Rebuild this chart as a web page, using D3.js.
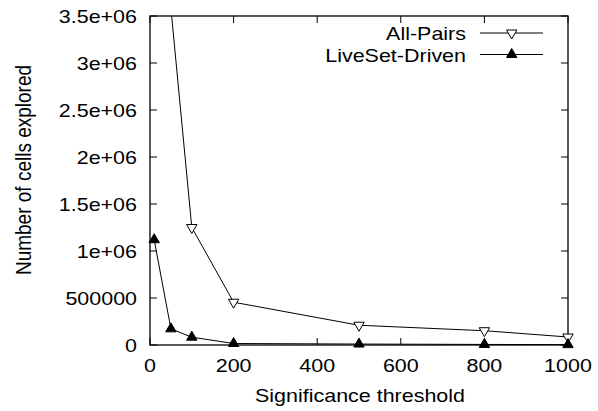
<!DOCTYPE html>
<html>
<head>
<meta charset="utf-8">
<script src="https://cdn.jsdelivr.net/npm/d3@7"></script>
<style>
  body { margin: 0; background: #fff; }
  text { font-family: "Liberation Sans", Arial, sans-serif; fill: #000; }
</style>
</head>
<body>
<div id="chart"></div>
<script>
// data
const allPairsX = [10, 100, 200, 500, 800, 1000];
const allPairsY = [5450000, 1250000, 455000, 210000, 152000, 85000];
const liveSetX = [10, 50, 100, 200, 500, 800, 1000];
const liveSetY = [1120000, 172000, 83000, 16000, 10000, 6000, 4000];
const xTicks = [0, 200, 400, 600, 800, 1000];
const yTicks = [0, 500000, 1000000, 1500000, 2000000, 2500000, 3000000, 3500000];
const yTickLabels = ["0", "500000", "1e+06", "1.5e+06", "2e+06", "2.5e+06", "3e+06", "3.5e+06"];
const seriesNames = ["All-Pairs", "LiveSet-Driven"];

const W = 598, H = 411;
const pLeft = 150, pRight = 568, pTop = 16, pBottom = 345;
const fs = 19, sx = 1.13; // text looks stretched horizontally

const svg = d3.select("#chart").append("svg")
    .attr("width", W).attr("height", H);

const x = d3.scaleLinear().domain([0, 1000]).range([pLeft, pRight]);
const y = d3.scaleLinear().domain([0, 3500000]).range([pBottom, pTop]);

function label(px, py, str, anchor) {
    return svg.append("text")
        .attr("transform", `translate(${px},${py}) scale(${sx},1)`)
        .attr("text-anchor", anchor)
        .style("font-size", fs + "px")
        .text(str);
}

// clip for data lines
svg.append("clipPath").attr("id", "plot")
    .append("rect")
    .attr("x", pLeft).attr("y", pTop)
    .attr("width", pRight - pLeft).attr("height", pBottom - pTop);

// ticks (inward, mirrored)
const tl = 7;
const tg = svg.append("g").attr("stroke", "#000").attr("stroke-width", 1);
xTicks.forEach(t => {
    tg.append("line").attr("x1", x(t)).attr("x2", x(t)).attr("y1", pBottom).attr("y2", pBottom - tl);
    tg.append("line").attr("x1", x(t)).attr("x2", x(t)).attr("y1", pTop).attr("y2", pTop + tl);
    label(x(t), pBottom + 27, t, "middle");
});
yTicks.forEach((t, i) => {
    tg.append("line").attr("x1", pLeft).attr("x2", pLeft + tl).attr("y1", y(t)).attr("y2", y(t));
    tg.append("line").attr("x1", pRight).attr("x2", pRight - tl).attr("y1", y(t)).attr("y2", y(t));
    label(137, y(t) + 7, yTickLabels[i], "end");
});

// border
svg.append("rect")
    .attr("x", pLeft).attr("y", pTop)
    .attr("width", pRight - pLeft).attr("height", pBottom - pTop)
    .attr("fill", "none").attr("stroke", "#000").attr("stroke-width", 1.3);

// axis titles
label(360, 402, "Significance threshold", "middle");
svg.append("text")
    .attr("transform", `translate(31,170) scale(${sx},1) rotate(-90)`)
    .attr("text-anchor", "middle")
    .style("font-size", fs + "px")
    .text("Number of cells explored");

const line = d3.line().x(d => x(d[0])).y(d => y(d[1]));
const allPairs = allPairsX.map((v, i) => [v, allPairsY[i]]);
const liveSet = liveSetX.map((v, i) => [v, liveSetY[i]]);

const down = "M0,6L-5.2,-3L5.2,-3Z";
const up = "M0,-6L-5.2,3L5.2,3Z";

[[allPairs, down, "#fff"], [liveSet, up, "#000"]].forEach(([data, shape, fill]) => {
    svg.append("path")
        .datum(data)
        .attr("d", line)
        .attr("clip-path", "url(#plot)")
        .attr("fill", "none")
        .attr("stroke", "#000")
        .attr("stroke-width", 1);
    svg.selectAll(null)
        .data(data.filter(d => d[1] <= 3500000))
        .enter().append("path")
        .attr("transform", d => `translate(${x(d[0])},${y(d[1])})`)
        .attr("d", shape)
        .attr("fill", fill)
        .attr("stroke", "#000")
        .attr("stroke-width", 1);
});

// legend
const legShapes = [down, up], legFill = ["#fff", "#000"];
seriesNames.forEach((name, i) => {
    const ly = 33 + i * 21.5;
    label(466, ly + 7, name, "end");
    svg.append("line")
        .attr("x1", 480).attr("x2", 543).attr("y1", ly).attr("y2", ly)
        .attr("stroke", "#000").attr("stroke-width", 1);
    svg.append("path")
        .attr("transform", `translate(511.7,${ly})`)
        .attr("d", legShapes[i])
        .attr("fill", legFill[i])
        .attr("stroke", "#000");
});
</script>
</body>
</html>
